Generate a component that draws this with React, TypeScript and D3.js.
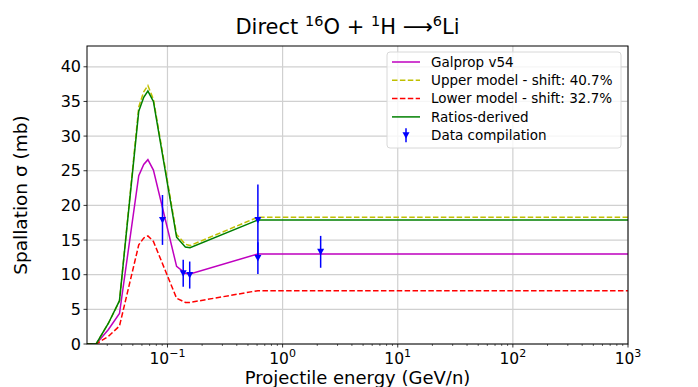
import React from "react";
import { scaleLog, scaleLinear, line } from "d3";

// energy grid (GeV/n) shared by the model curves
const energy = [0.02, 0.024, 0.0307, 0.0383, 0.0563, 0.0622, 0.0676, 0.0755, 0.12, 0.143, 0.157, 0.61, 1000];
const galprop = [0, 0, 2.1, 4.4, 24.3, 25.9, 26.6, 25.1, 11.2, 10.2, 10.1, 13.0, 13.0];
const upperModel = [0, 0, 3.0, 6.2, 34.2, 36.4, 37.3, 35.3, 15.8, 14.4, 14.2, 18.3, 18.3];
const lowerModel = [0, 0, 1.1, 2.6, 14.3, 15.3, 15.6, 14.8, 6.6, 6.0, 6.0, 7.7, 7.7];
const ratiosDerived = [0, 0, 3.0, 6.25, 33.6, 35.6, 36.5, 35.0, 15.4, 14.0, 13.9, 17.9, 17.9];

// data compilation
const dataEnergy = [0.0905, 0.137, 0.156, 0.61, 0.61, 2.14];
const dataValue = [17.9, 10.2, 9.95, 17.9, 12.4, 13.3];
const dataError = [3.6, 1.95, 1.95, 5.1, 2.3, 2.3];

const yTicks = [0, 5, 10, 15, 20, 25, 30, 35, 40];
const xTicks = [0.1, 1, 10, 100, 1000];
const xTickExp = ["\u22121", "0", "1", "2", "3"];

const legendItems = [
  { label: "Galprop v54", color: "#bf00bf", dash: "" },
  { label: "Upper model - shift: 40.7%", color: "#bfbf00", dash: "5.5,2.4" },
  { label: "Lower model - shift: 32.7%", color: "#ff0000", dash: "5.5,2.4" },
  { label: "Ratios-derived", color: "#008000", dash: "" },
];

const W = 698;
const H = 387;
const margin = { left: 87, right: 70, top: 46, bottom: 43 };
const font = "DejaVu Sans, sans-serif";

export default function App() {
  const x = scaleLog().domain([0.02, 1000]).range([margin.left, W - margin.right]);
  const y = scaleLinear().domain([0, 43]).range([H - margin.bottom, margin.top]);

  const series = [
    { values: galprop, color: "#bf00bf", dash: "" },
    { values: upperModel, color: "#bfbf00", dash: "5.5,2.4" },
    { values: lowerModel, color: "#ff0000", dash: "5.5,2.4" },
    { values: ratiosDerived, color: "#008000", dash: "" },
  ];

  const makeLine = (vals: number[]) =>
    line<number>()
      .x((_, i) => x(energy[i]))
      .y((v) => y(v))(vals) as string;

  // minor ticks on log axis
  const minor: number[] = [];
  for (let e = -2; e < 3; e++) {
    for (let m = 2; m <= 9; m++) {
      const v = m * Math.pow(10, e);
      if (v > 0.02 && v < 1000) minor.push(v);
    }
  }

  const x0 = margin.left;
  const x1 = W - margin.right;
  const y0 = H - margin.bottom;
  const y1 = margin.top;

  const tri = (cx: number, cy: number) =>
    `M${cx - 3.5},${cy - 3} L${cx + 3.5},${cy - 3} L${cx},${cy + 3.5} Z`;

  const legX = 387;
  const legY = 52;
  const rowH = 18.3;

  return (
    <svg
      width={W}
      height={H}
      style={{ position: "absolute", left: 0, top: 0, background: "#fff" }}
      fontFamily={font}
    >
      <rect width={W} height={H} fill="#fff" />
      <defs>
        <clipPath id="plot">
          <rect x={x0} y={y1} width={x1 - x0} height={y0 - y1} />
        </clipPath>
      </defs>

      {/* grid */}
      {xTicks.map((t) => (
        <line key={"gx" + t} x1={x(t)} x2={x(t)} y1={y1} y2={y0} stroke="#d0d0d0" strokeWidth={1.2} />
      ))}
      {yTicks.map((t) => (
        <line key={"gy" + t} x1={x0} x2={x1} y1={y(t)} y2={y(t)} stroke="#d0d0d0" strokeWidth={1.2} />
      ))}

      {/* model curves */}
      <g clipPath="url(#plot)">
        {series.map((s, i) => (
          <path
            key={i}
            d={makeLine(s.values)}
            fill="none"
            stroke={s.color}
            strokeWidth={1.5}
            strokeDasharray={s.dash || undefined}
          />
        ))}
      </g>

      {/* data compilation */}
      {dataEnergy.map((e, i) => (
        <g key={"d" + i}>
          <line
            x1={x(e)}
            x2={x(e)}
            y1={y(dataValue[i] + dataError[i])}
            y2={y(dataValue[i] - dataError[i])}
            stroke="#0000ff"
            strokeWidth={1.5}
          />
          <path d={tri(x(e), y(dataValue[i]))} fill="#0000ff" />
        </g>
      ))}

      {/* frame */}
      <rect x={x0} y={y1} width={x1 - x0} height={y0 - y1} fill="none" stroke="#000" strokeWidth={1} />

      {/* x ticks */}
      {minor.map((t) => (
        <line key={"mx" + t} x1={x(t)} x2={x(t)} y1={y0} y2={y0 + 2} stroke="#000" strokeWidth={0.6} />
      ))}
      {xTicks.map((t, i) => (
        <g key={"tx" + t}>
          <line x1={x(t)} x2={x(t)} y1={y0} y2={y0 + 3.5} stroke="#000" strokeWidth={0.8} />
          <text x={x(t)} y={y0 + 20} textAnchor="middle" fontSize={15.5} fill="#000">
            10
            <tspan dy={-7} fontSize={11}>
              {xTickExp[i]}
            </tspan>
          </text>
        </g>
      ))}

      {/* y ticks */}
      {yTicks.map((t) => (
        <g key={"ty" + t}>
          <line x1={x0 - 3.5} x2={x0} y1={y(t)} y2={y(t)} stroke="#000" strokeWidth={0.8} />
          <text x={x0 - 6} y={y(t)} dy="0.35em" textAnchor="end" fontSize={16} fill="#000">
            {t}
          </text>
        </g>
      ))}

      {/* axis labels */}
      <text x={(x0 + x1) / 2} y={384} textAnchor="middle" fontSize={18} fill="#000">
        Projectile energy (GeV/n)
      </text>
      <text
        transform={`translate(27,${(y0 + y1) / 2}) rotate(-90)`}
        textAnchor="middle"
        fontSize={18.5}
        fill="#000"
      >
        Spallation σ (mb)
      </text>

      {/* title */}
      <text x={(x0 + x1) / 2 - 10} y={34} textAnchor="middle" fontSize={21} fill="#000">
        Direct{" "}
        <tspan dy={-8} fontSize={14.5}>16</tspan>
        <tspan dy={8}>O + </tspan>
        <tspan dy={-8} fontSize={14.5}>1</tspan>
        <tspan dy={8}>H ⟶</tspan>
        <tspan dy={-8} fontSize={14.5}>6</tspan>
        <tspan dy={8}>Li</tspan>
      </text>

      {/* legend */}
      <rect
        x={legX}
        y={legY}
        width={234}
        height={96}
        rx={3}
        fill="#fff"
        fillOpacity={0.8}
        stroke="#d8d8d8"
        strokeWidth={1}
      />
      {legendItems.map((it, i) => (
        <g key={"l" + i}>
          <line
            x1={legX + 5}
            x2={legX + 33}
            y1={legY + 10 + i * rowH}
            y2={legY + 10 + i * rowH}
            stroke={it.color}
            strokeWidth={1.5}
            strokeDasharray={it.dash || undefined}
          />
          <text x={legX + 44} y={legY + 10 + i * rowH} dy="0.35em" fontSize={13.5} fill="#000">
            {it.label}
          </text>
        </g>
      ))}
      <g>
        <line
          x1={legX + 19}
          x2={legX + 19}
          y1={legY + 10 + 4 * rowH - 7}
          y2={legY + 10 + 4 * rowH + 7}
          stroke="#0000ff"
          strokeWidth={1.5}
        />
        <path d={tri(legX + 19, legY + 10 + 4 * rowH)} fill="#0000ff" />
        <text x={legX + 44} y={legY + 10 + 4 * rowH} dy="0.35em" fontSize={13.5} fill="#000">
          Data compilation
        </text>
      </g>
    </svg>
  );
}
